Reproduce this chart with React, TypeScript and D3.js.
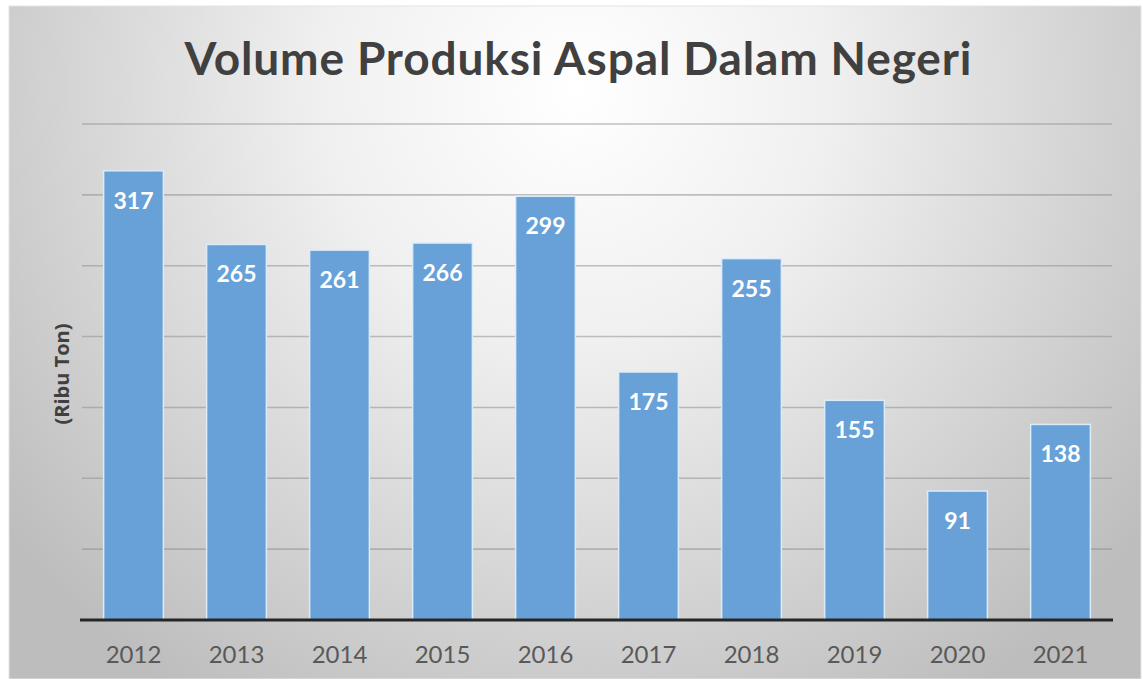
import React, { useRef, useEffect } from 'react';
import * as d3 from 'd3';

const years = ['2012', '2013', '2014', '2015', '2016', '2017', '2018', '2019', '2020', '2021'];
const volumes = [317, 265, 261, 266, 299, 175, 255, 155, 91, 138];
const gridTicks = [50, 100, 150, 200, 250, 300, 350];

const W = 1143;
const H = 679;

const App = () => {
  const ref = useRef<SVGGElement>(null);

  useEffect(() => {
    const g = d3.select(ref.current);
    g.selectAll('*').remove();

    const x = d3.scaleBand().domain(years).range([82, 1112]).paddingInner(0.42).paddingOuter(0.21);
    const y = d3.scaleLinear().domain([0, 350]).range([620, 124]);

    // grid lines
    g.append('g')
      .selectAll('line')
      .data(gridTicks)
      .enter()
      .append('line')
      .attr('x1', 82)
      .attr('x2', 1112)
      .attr('y1', d => y(d))
      .attr('y2', d => y(d))
      .attr('stroke', '#8f8f8f')
      .attr('stroke-opacity', 0.55)
      .attr('stroke-width', 1.6);

    // bars
    g.append('g')
      .selectAll('rect')
      .data(volumes)
      .enter()
      .append('rect')
      .attr('x', (d, i) => x(years[i]))
      .attr('y', d => y(d))
      .attr('width', x.bandwidth())
      .attr('height', d => y(0) - y(d))
      .attr('fill', '#67a1d8')
      .attr('stroke', '#dcebf8')
      .attr('stroke-width', 1.5);

    // value labels
    g.append('g')
      .selectAll('text')
      .data(volumes)
      .enter()
      .append('text')
      .attr('x', (d, i) => x(years[i]) + x.bandwidth() / 2)
      .attr('y', d => y(d) + 38)
      .attr('text-anchor', 'middle')
      .style('font-family', 'Lato, "Open Sans", sans-serif')
      .style('font-weight', 700)
      .style('font-size', '23px')
      .attr('fill', '#ffffff')
      .text(d => d);

    // baseline
    g.append('line')
      .attr('x1', 80)
      .attr('x2', 1113)
      .attr('y1', y(0))
      .attr('y2', y(0))
      .attr('stroke', '#262626')
      .attr('stroke-width', 3);

    // category labels
    g.append('g')
      .selectAll('text')
      .data(years)
      .enter()
      .append('text')
      .attr('x', d => x(d) + x.bandwidth() / 2)
      .attr('y', 663)
      .attr('text-anchor', 'middle')
      .style('font-family', 'Lato, "Open Sans", sans-serif')
      .style('font-size', '24px')
      .attr('fill', '#595959')
      .text(d => d);
  }, []);

  return (
    <svg width={W} height={H} style={{ position: 'absolute', left: 0, top: 0 }}>
      <defs>
        <radialGradient id="bg" cx="575" cy="90" r="720" gradientUnits="userSpaceOnUse">
          <stop offset="0" stopColor="#ffffff" />
          <stop offset="0.35" stopColor="#f0f0f0" />
          <stop offset="1" stopColor="#bdbdbd" />
        </radialGradient>
      </defs>
      <rect x={0} y={0} width={W} height={H} fill="#ffffff" />
      <rect x={9} y={6} width={1132} height={673} fill="url(#bg)" stroke="#e4e4e4" strokeWidth={1} />
      <text
        x={578}
        y={75}
        textAnchor="middle"
        textLength={787}
        lengthAdjust="spacing"
        style={{ fontFamily: 'Lato, "Open Sans", sans-serif', fontWeight: 700, fontSize: 46, fill: '#404040' }}
      >
        Volume Produksi Aspal Dalam Negeri
      </text>
      <text
        transform="translate(69, 374) rotate(-90)"
        textAnchor="middle"
        style={{ fontFamily: '"Open Sans", sans-serif', fontWeight: 700, fontSize: 20, fill: '#404040' }}
      >
        (Ribu Ton)
      </text>
      <g ref={ref} />
    </svg>
  );
};

export default App;
